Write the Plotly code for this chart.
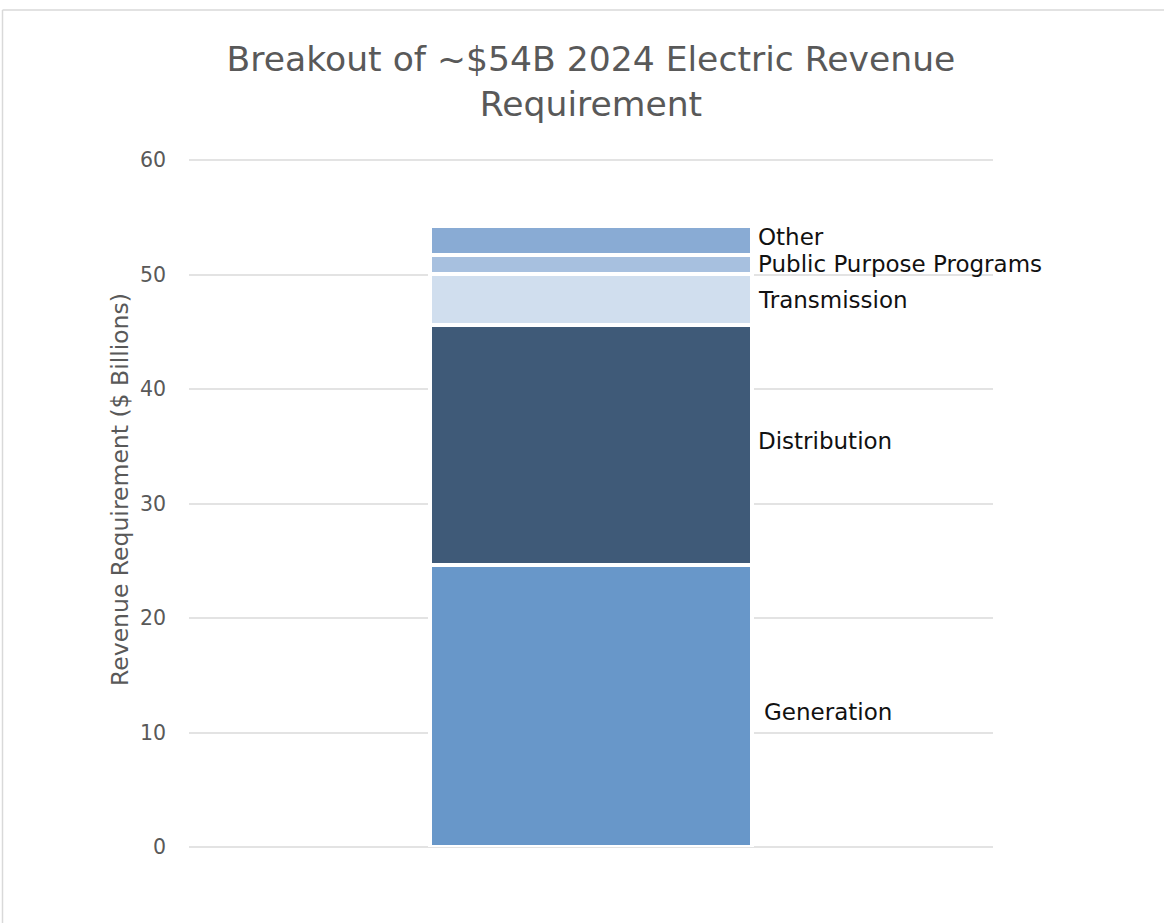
import plotly.graph_objects as go

categories = ["2024"]
segments = ["Generation", "Distribution", "Transmission", "Public Purpose Programs", "Other"]
values = [24.6, 21.0, 4.45, 1.7, 2.5]
colors = ["#6897c9", "#3f5a78", "#d0deee", "#a7c0df", "#89abd4"]
y_ticks = [0, 10, 20, 30, 40, 50, 60]

FONT = "DejaVu Sans, Noto Sans, sans-serif"
W, H = 1164, 923
ml, mr, mt, mb = 189, 171, 159, 76

fig = go.Figure()
for name, v, c in zip(segments, values, colors):
    fig.add_trace(go.Bar(
        x=categories, y=[v], name=name,
        marker=dict(color=c, line=dict(color="white", width=4)),
        showlegend=False, hoverinfo="y+name",
    ))

pw = W - ml - mr
ph = H - mt - mb

# labels at segment centres
annotations = []
base = 0.0
label_dx = {"Generation": 6}
label_dy = {"Generation": -6, "Distribution": 4, "Other": 3}
for name, v in zip(segments, values):
    centre = base + v / 2
    base += v
    annotations.append(dict(
        x=0.5, xref="x domain", y=centre, yref="y",
        text=name, showarrow=False, xanchor="left", yanchor="middle",
        xshift=165 + label_dx.get(name, 0), yshift=label_dy.get(name, 0),
        font=dict(family=FONT, size=23, color="#111111"),
    ))

# y-axis title
annotations.append(dict(
    x=(120 - ml) / pw, xref="paper", y=(H - mb - 490) / ph, yref="paper",
    text="Revenue Requirement ($ Billions)", textangle=-90, showarrow=False,
    xanchor="center", yanchor="middle",
    font=dict(family=FONT, size=23.5, color="#595959"),
))

fig.update_layout(
    width=W, height=H,
    margin=dict(l=ml, r=mr, t=mt, b=mb),
    paper_bgcolor="white", plot_bgcolor="white",
    barmode="stack", bargap=0.6,
    title=dict(
        text="Breakout of ~$54B 2024 Electric Revenue<br>Requirement",
        x=591 / W, xanchor="center", y=1 - 71 / H, yanchor="middle",
        font=dict(family=FONT, size=34.6, color="#595959"),
    ),
    xaxis=dict(showticklabels=False, showgrid=False, zeroline=False, showline=False, ticks=""),
    yaxis=dict(
        range=[0, 60.1], tickvals=y_ticks, showgrid=True, gridcolor="#e3e3e3", gridwidth=2,
        zeroline=True, zerolinecolor="#e3e3e3", zerolinewidth=2,
        showline=False, ticks="", ticklabelstandoff=22,
        tickfont=dict(family=FONT, size=20.5, color="#595959"),
    ),
    annotations=annotations,
    shapes=[
        dict(type="line", xref="paper", yref="paper",
             x0=(2.5 - ml) / pw, x1=(W + 5 - ml) / pw,
             y0=(H - mb - 10) / ph, y1=(H - mb - 10) / ph,
             line=dict(color="#d9d9d9", width=1.5)),
        dict(type="line", xref="paper", yref="paper",
             x0=(2.5 - ml) / pw, x1=(2.5 - ml) / pw,
             y0=(H - mb - 10) / ph, y1=-(mb + 5) / ph,
             line=dict(color="#d9d9d9", width=1.5)),
    ],
)

fig.write_html("out.html")
